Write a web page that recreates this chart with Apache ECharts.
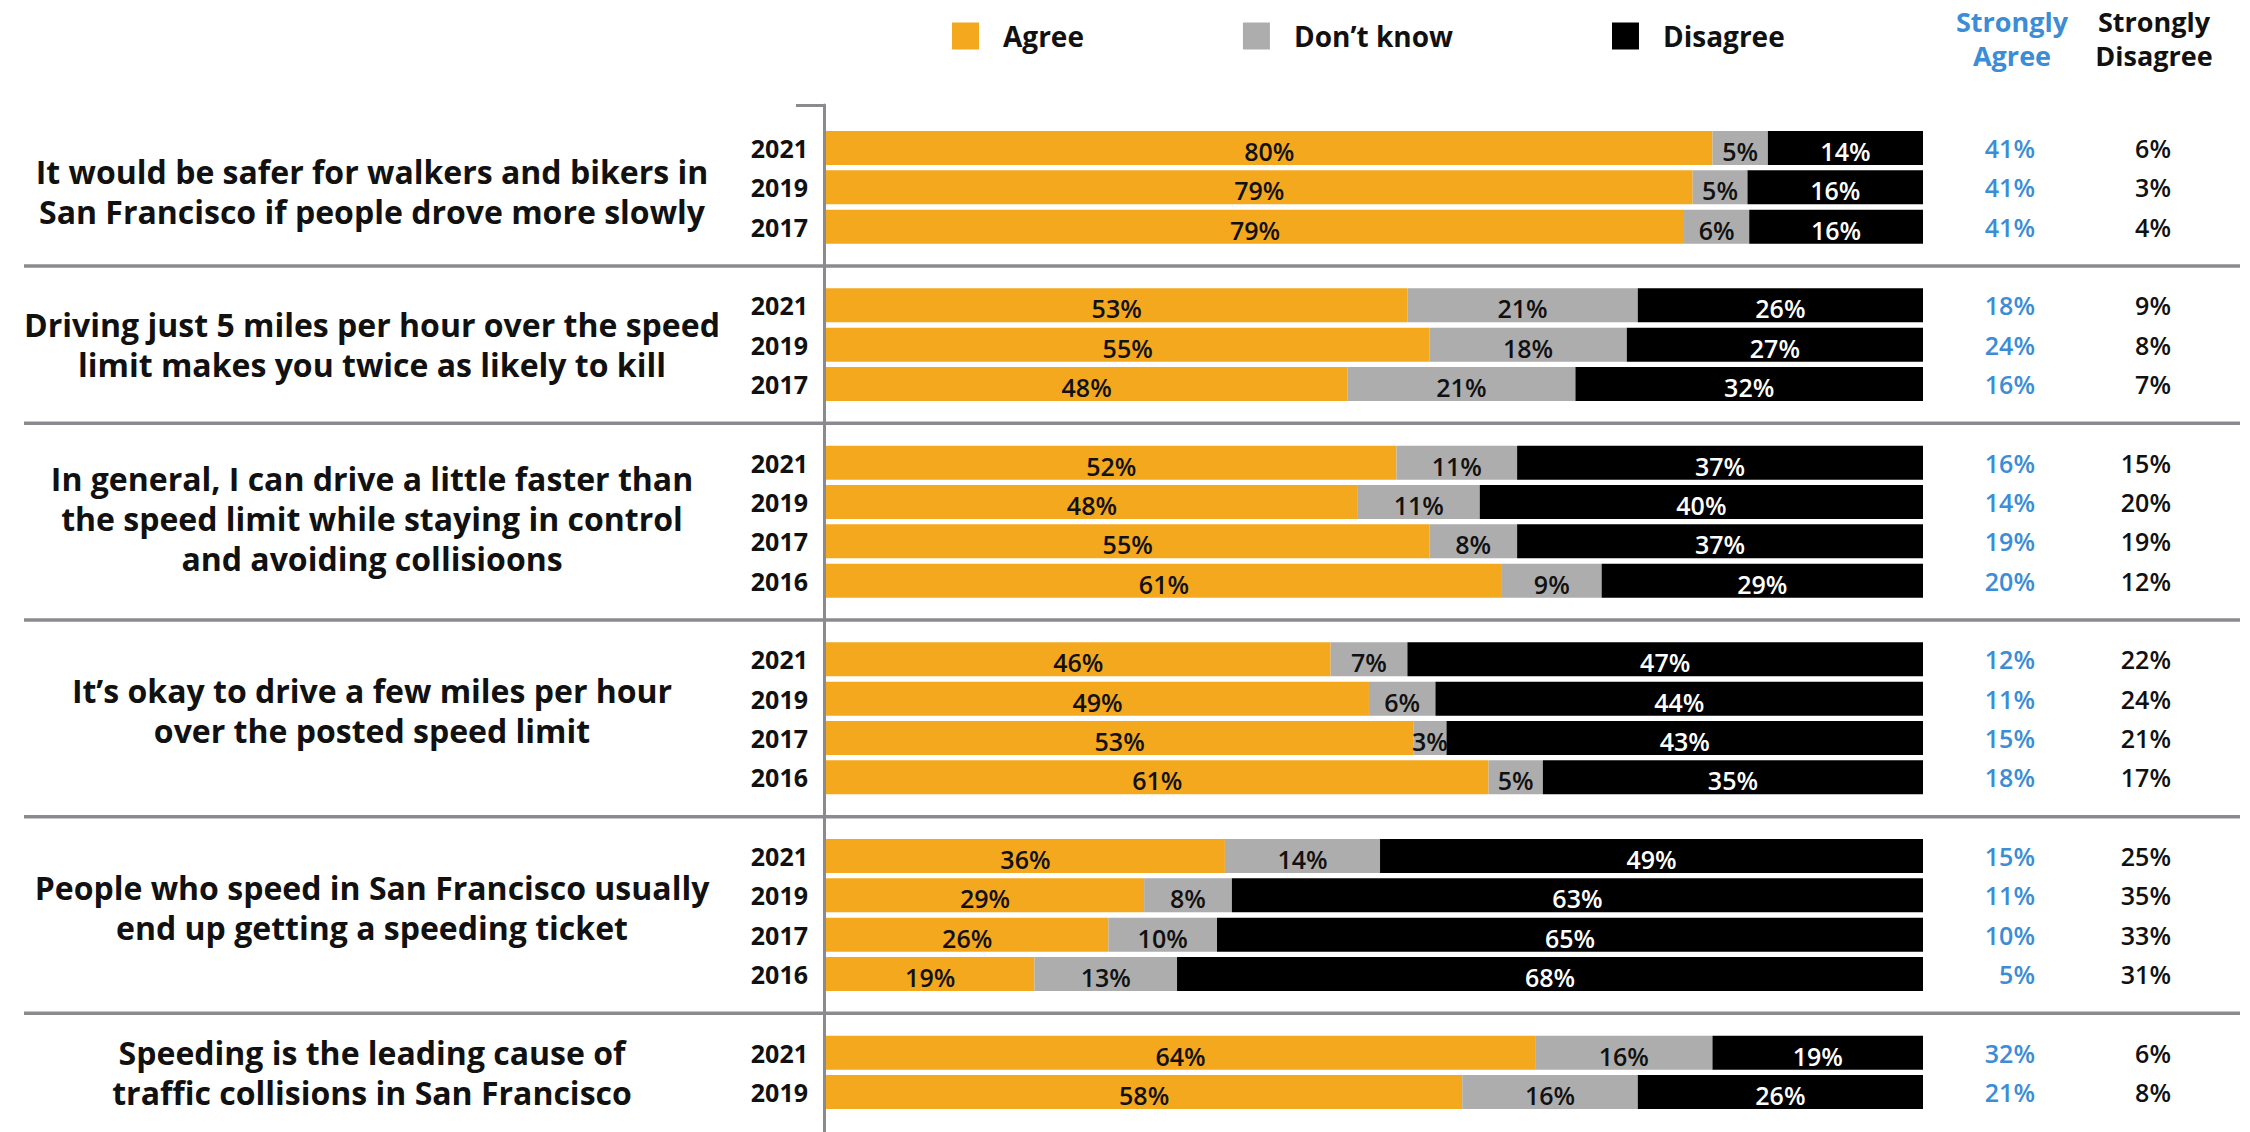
<!DOCTYPE html>
<html>
<head>
<meta charset="utf-8">
<title>Attitudes about speeding</title>
<script src="https://cdn.jsdelivr.net/npm/echarts@6/dist/echarts.min.js"></script>
<style>
  html, body { margin: 0; padding: 0; background: #fff; }
  #chart { width: 2250px; height: 1132px; }
</style>
</head>
<body>
<div id="chart"></div>
<script>
// ---- data -----------------------------------------------------------------
const statements = [
  'It would be safer for walkers and bikers in\nSan Francisco if people drove more slowly',
  'Driving just 5 miles per hour over the speed\nlimit makes you twice as likely to kill',
  'In general, I can drive a little faster than\nthe speed limit while staying in control\nand avoiding collisioons',
  'It’s okay to drive a few miles per hour\nover the posted speed limit',
  'People who speed in San Francisco usually\nend up getting a speeding ticket',
  'Speeding is the leading cause of\ntraffic collisions in San Francisco',
];
const years = [
  ['2021', '2019', '2017'],
  ['2021', '2019', '2017'],
  ['2021', '2019', '2017', '2016'],
  ['2021', '2019', '2017', '2016'],
  ['2021', '2019', '2017', '2016'],
  ['2021', '2019'],
];
const agree = [[80, 79, 79], [53, 55, 48], [52, 48, 55, 61], [46, 49, 53, 61], [36, 29, 26, 19], [64, 58]];
const dontKnow = [[5, 5, 6], [21, 18, 21], [11, 11, 8, 9], [7, 6, 3, 5], [14, 8, 10, 13], [16, 16]];
const disagree = [[14, 16, 16], [26, 27, 32], [37, 40, 37, 29], [47, 44, 43, 35], [49, 63, 65, 68], [19, 26]];
const stronglyAgree = [[41, 41, 41], [18, 24, 16], [16, 14, 19, 20], [12, 11, 15, 18], [15, 11, 10, 5], [32, 21]];
const stronglyDisagree = [[6, 3, 4], [9, 8, 7], [15, 20, 19, 12], [22, 24, 21, 17], [25, 35, 33, 31], [6, 8]];
const legendNames = ['Agree', 'Don’t know', 'Disagree'];

// ---- style ----------------------------------------------------------------
const FONT = '"Open Sans", "Noto Sans", sans-serif';
const ORANGE = '#f4a81e';
const GREY = '#adadad';
const BLACK = '#000000';
const BLUE = '#3a8dd6';
const RULE = '#8b8b8f';
const INK = '#111111';
// small vertical nudges of the statement blocks, as set in the original layout
const statementNudge = [4, 0, -3, -8, -8, 0];

// one category per bar, a blank slot before the first group and after each group
const categories = ['top'];
const rowInfo = [null];
statements.forEach((s, g) => {
  years[g].forEach((y, i) => {
    categories.push(`g${g}-${i}`);
    rowInfo.push({ g, i });
  });
  categories.push(`sep${g}`);
  rowInfo.push(null);
});

const rowTotal = rowInfo.map((r) => (r ? agree[r.g][r.i] + dontKnow[r.g][r.i] + disagree[r.g][r.i] : null));
const share = (arr) => rowInfo.map((r, k) => (r ? (arr[r.g][r.i] / rowTotal[k]) * 100 : null));
const cell = (arr, idx) => {
  const r = rowInfo[idx];
  return r ? arr[r.g][r.i] : null;
};

const makeBar = (name, arr, color, labelColor) => ({
  name,
  type: 'bar',
  stack: 'total',
  barWidth: 34,
  data: share(arr),
  itemStyle: { color },
  label: {
    show: true,
    position: 'inside',
    offset: [0, 3],
    color: labelColor,
    fontFamily: FONT,
    fontWeight: 600,
    fontSize: 25,
    formatter: (p) => {
      const v = cell(arr, p.dataIndex);
      return v == null ? '' : `${v}%`;
    },
  },
});

const statAxis = (arr, offset, color) => ({
  type: 'category',
  gridIndex: 0,
  position: 'right',
  offset,
  inverse: true,
  data: categories,
  axisLine: { show: false, onZero: false },
  axisTick: { show: false },
  splitLine: { show: false },
  axisLabel: {
    interval: 0,
    align: 'right',
    margin: 8,
    padding: [6, 0, 0, 0],
    color,
    fontFamily: FONT,
    fontWeight: 600,
    fontSize: 25,
    formatter: (v, idx) => {
      const n = cell(arr, idx);
      return n == null ? '' : `${n}%`;
    },
  },
});

const chart = echarts.init(document.getElementById('chart'), null, { renderer: 'svg' });

chart.setOption({
  animation: false,
  backgroundColor: '#ffffff',
  legend: {
    left: 947,
    top: 17,
    icon: 'rect',
    itemWidth: 27,
    itemHeight: 27,
    itemGap: 159,
    data: legendNames,
    textStyle: {
      fontFamily: FONT,
      fontSize: 28,
      fontWeight: 700,
      color: INK,
      padding: [0, 0, 0, 19],
    },
  },
  grid: [
    { left: 826, right: 327, top: 89, bottom: -19, outerBoundsMode: 'none' },
    // only carries the vertical rule with its top stub
    { left: 824, width: 10, top: 105, bottom: -20, outerBoundsMode: 'none' },
  ],
  xAxis: [
    { type: 'value', gridIndex: 0, min: 0, max: 100, show: false },
    { type: 'value', gridIndex: 1, min: 0, max: 1, show: false },
  ],
  yAxis: [
    {
      type: 'category',
      gridIndex: 0,
      position: 'left',
      inverse: true,
      data: categories,
      axisLine: { show: false, onZero: false },
      axisTick: { show: false },
      splitLine: { show: false },
      axisLabel: {
        interval: 0,
        margin: 18,
        padding: [6, 0, 0, 0],
        color: INK,
        fontFamily: FONT,
        fontWeight: 700,
        fontSize: 25,
        formatter: (v, idx) => {
          const r = rowInfo[idx];
          return r ? years[r.g][r.i] : '';
        },
      },
    },
    statAxis(stronglyAgree, 104, BLUE),
    statAxis(stronglyDisagree, 240, INK),
    {
      type: 'value',
      gridIndex: 1,
      position: 'left',
      min: 0,
      max: 1,
      interval: 1,
      axisLine: { show: true, onZero: false, lineStyle: { color: RULE, width: 3 } },
      axisTick: { show: true, length: 28, lineStyle: { color: RULE, width: 3 } },
      axisLabel: { show: false },
      splitLine: { show: false },
    },
  ],
  series: [
    makeBar(legendNames[0], agree, ORANGE, INK),
    makeBar(legendNames[1], dontKnow, GREY, INK),
    makeBar(legendNames[2], disagree, BLACK, '#ffffff'),
  ],
});

// ---- statement labels, separators and column headers ----------------------
const yPix = (name) => chart.convertToPixel({ yAxisIndex: 0 }, categories.indexOf(name));

const graphics = [];
statements.forEach((text, g) => {
  const first = yPix(`g${g}-0`);
  const last = yPix(`g${g}-${years[g].length - 1}`);
  graphics.push({
    type: 'text',
    x: 372,
    y: (first + last) / 2 + statementNudge[g],
    style: {
      text,
      align: 'center',
      verticalAlign: 'middle',
      fill: INK,
      fontFamily: FONT,
      fontWeight: 700,
      fontSize: 32,
      lineHeight: 40,
    },
  });
  if (g < statements.length - 1) {
    const y = yPix(`sep${g}`);
    graphics.push({
      type: 'line',
      shape: { x1: 24, y1: y, x2: 2240, y2: y },
      style: { stroke: RULE, lineWidth: 3.5 },
    });
  }
});

const header = (text, x, color) => ({
  type: 'text',
  x,
  y: 38,
  style: {
    text,
    align: 'center',
    verticalAlign: 'middle',
    fill: color,
    fontFamily: FONT,
    fontWeight: 700,
    fontSize: 27,
    lineHeight: 34,
  },
});
graphics.push(header('Strongly\nAgree', 2012, BLUE));
graphics.push(header('Strongly\nDisagree', 2154, INK));

chart.setOption({ graphic: graphics });
</script>
</body>
</html>
